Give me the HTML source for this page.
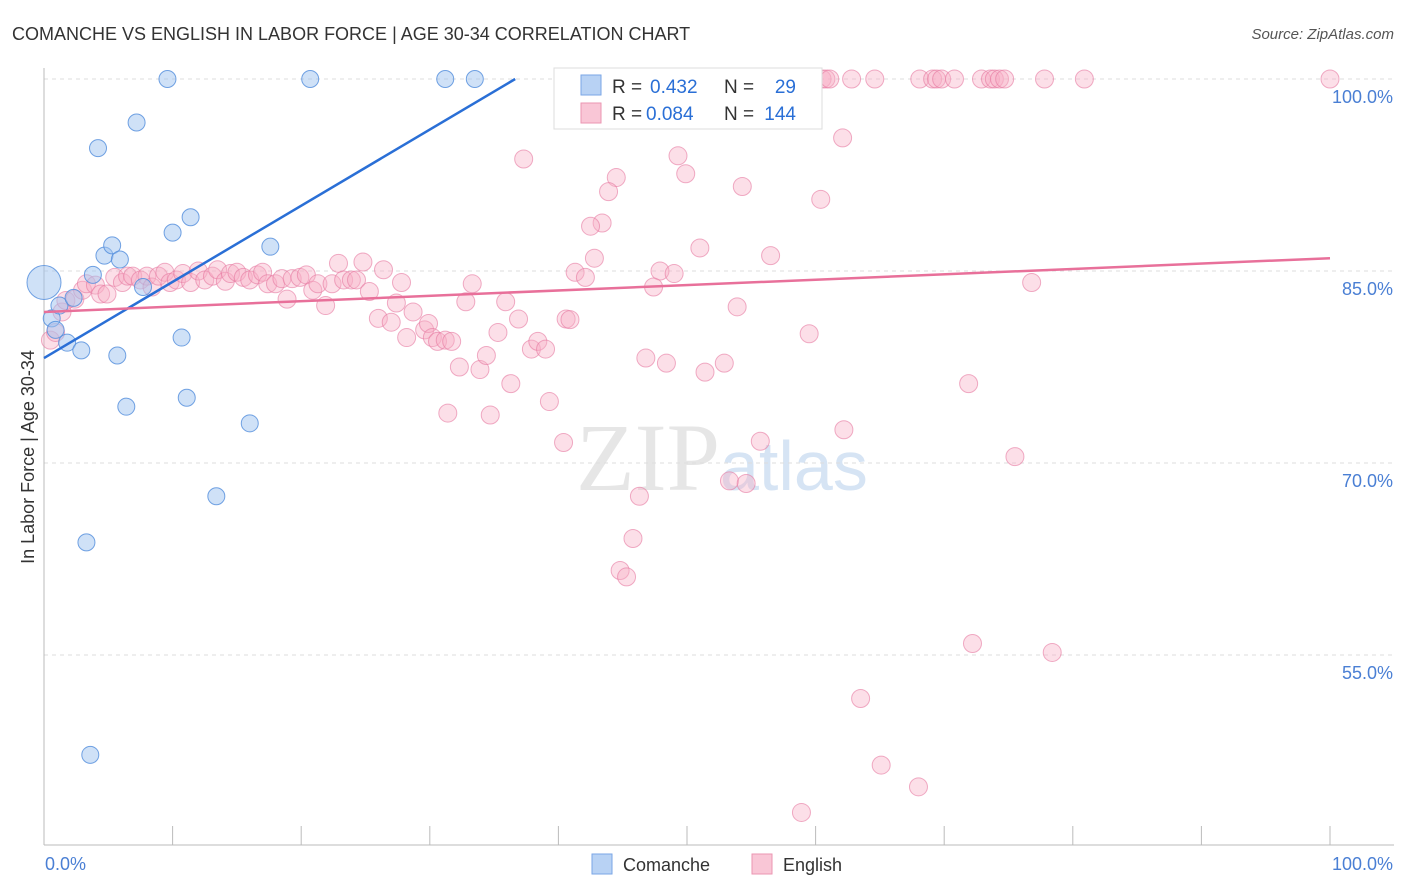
<!DOCTYPE html>
<html><head><meta charset="utf-8"><style>
body{margin:0;background:#fff;font-family:"Liberation Sans",sans-serif}
svg{display:block}
</style></head><body>
<svg id="chart" width="1406" height="892" viewBox="0 0 1406 892">
<text x="12" y="40" font-size="18" fill="#333">COMANCHE VS ENGLISH IN LABOR FORCE | AGE 30-34 CORRELATION CHART</text>
<text x="1394" y="39" font-size="15" fill="#555" font-style="italic" text-anchor="end">Source: ZipAtlas.com</text>
<text x="720" y="490" font-size="96" fill="#e6e6e6" text-anchor="end" font-family="Liberation Serif,serif">ZIP</text>
<text x="720" y="490" font-size="70" fill="#d6e4f4">atlas</text>
<g id="grid"></g>
<g id="axes"></g>
<g id="pinkPts"></g>
<g id="bluePts"></g>
<g id="lines"></g>
<text transform="translate(34,457) rotate(-90)" font-size="18" fill="#333" text-anchor="middle">In Labor Force | Age 30-34</text>
<text x="45" y="870" font-size="18" fill="#4a7fd4">0.0%</text>
<text x="1393" y="870" font-size="18" fill="#4a7fd4" text-anchor="end">100.0%</text>
<g>
<rect x="554" y="68" width="268" height="61" fill="#fff" stroke="#ddd"/>
<rect x="581" y="75" width="20" height="20" fill="#b8d2f4" stroke="#7aa6e6"/>
<text x="612" y="93" font-size="19" fill="#333">R = </text><text x="650" y="93" font-size="19" fill="#2a6fd6">0.432</text>
<text x="724" y="93" font-size="19" fill="#333">N = </text><text x="796" y="93" font-size="19" fill="#2a6fd6" text-anchor="end">29</text>
<rect x="581" y="103" width="20" height="20" fill="#f9c6d6" stroke="#eb96b2"/>
<text x="612" y="120" font-size="19" fill="#333">R = </text><text x="646" y="120" font-size="19" fill="#2a6fd6">0.084</text>
<text x="724" y="120" font-size="19" fill="#333">N = </text><text x="796" y="120" font-size="19" fill="#2a6fd6" text-anchor="end">144</text>
</g>
<g>
<rect x="592" y="854" width="20" height="20" fill="#b8d2f4" stroke="#7aa6e6"/>
<text x="623" y="871" font-size="18" fill="#333">Comanche</text></g>
<g>
<rect x="752" y="854" width="20" height="20" fill="#f9c6d6" stroke="#eb96b2"/>
<text x="783" y="871" font-size="18" fill="#333">English</text></g>
</svg>
<script>
const yTicks=[100,85,70,55];
const yTickLabels=["100.0%","85.0%","70.0%","55.0%"];
const xTicks=[0,10,20,30,40,50,60,70,80,90,100];
const blueX=[0,0.6,1.2,1.8,2.3,2.9,3.3,3.6,3.8,4.2,4.7,5.3,5.7,5.9,6.4,7.2,7.7,9.6,10.0,10.7,11.1,11.4,13.4,16.0,17.6,20.7,31.2,33.5,0.9];
const blueY=[84.1,81.3,82.3,79.4,82.9,78.8,63.8,47.2,84.7,94.6,86.2,87.0,78.4,85.9,74.4,96.6,83.75,100,88.0,79.8,75.1,89.2,67.4,73.1,86.9,100,100,100,80.4];
const pinkX=[52.0,52.3,54.5,55.4,55.5,56.6,56.9,58.8,60.5,60.8,61.1,62.8,64.6,68.1,69.1,69.4,69.8,70.8,72.9,73.6,73.9,74.3,74.7,77.8,80.9,100,
37.3,49.3,62.1,49.9,44.5,43.9,54.3,60.4,43.4,42.5,51.0,56.5,42.8,41.3,42.1,47.9,49.0,47.4,76.8,53.9,59.5,46.8,48.4,52.9,51.4,71.9,39.3,36.3,31.4,34.7,40.4,55.7,62.2,75.5,53.3,54.6,46.3,45.8,44.8,45.3,72.2,78.4,63.5,65.1,68.0,58.9,
0.5,0.9,1.4,1.7,2.4,3.0,3.3,4.0,4.4,4.9,5.5,6.1,6.5,6.9,7.5,8.0,8.4,8.9,9.4,9.8,10.3,10.8,11.4,12.0,12.5,13.1,13.5,14.1,14.5,15.0,15.5,16.0,16.6,17.0,17.4,18.0,18.5,18.9,19.3,19.9,20.4,20.9,21.3,21.9,22.4,22.9,23.3,23.9,24.3,24.8,25.3,26.0,26.4,27.0,27.4,27.8,28.2,28.7,29.6,29.9,30.2,30.6,31.2,31.7,32.3,32.8,33.3,33.9,34.4,35.3,35.9,36.9,37.9,38.4,39.0,40.6,40.9];
const pinkY=[100,100,100,100,100,100,100,100,100,100,100,100,100,100,100,100,100,100,100,100,100,100,100,100,100,100,
93.75,94.0,95.4,92.6,92.3,91.2,91.6,90.6,88.75,88.5,86.8,86.2,86.0,84.9,84.5,85.0,84.8,83.75,84.1,82.2,80.1,78.2,77.8,77.8,77.1,76.2,74.8,76.2,73.9,73.75,71.6,71.7,72.6,70.5,68.6,68.4,67.4,64.1,61.6,61.1,55.9,55.2,51.6,46.4,44.7,42.7,
79.6,80.2,81.8,82.7,82.8,83.5,84.0,83.9,83.2,83.2,84.5,84.1,84.6,84.6,84.3,84.6,83.75,84.6,84.9,84.1,84.3,84.8,84.1,85.0,84.3,84.6,85.1,84.2,84.8,84.9,84.5,84.3,84.7,84.9,84.0,84.0,84.4,82.8,84.4,84.5,84.7,83.5,84.0,82.3,84.0,85.6,84.3,84.3,84.3,85.7,83.4,81.3,85.1,81.0,82.5,84.1,79.8,81.8,80.4,80.9,79.8,79.5,79.6,79.5,77.5,82.6,84.0,77.3,78.4,80.2,82.6,81.25,78.9,79.5,78.9,81.25,81.2];
const blueTrend=[78.2,0.595];
const pinkTrend=[81.8,0.042];
const X=v=>44+v*12.86, Y=v=>79+(100-v)*12.8;
const NS="http://www.w3.org/2000/svg";
function mk(tag,attrs,parent){const e=document.createElementNS(NS,tag);for(const k in attrs)e.setAttribute(k,attrs[k]);document.getElementById(parent).appendChild(e);return e;}
yTicks.forEach((t,i)=>{
 const l=mk('line',{x1:44,x2:1394,y1:Y(t),y2:Y(t),stroke:'#ddd','stroke-dasharray':'4,4'},'grid');
 
 
 const tx=mk('text',{x:1393,y:Y(t)+24,'font-size':18,fill:'#4a7fd4','text-anchor':'end'},'grid');
 tx.textContent=yTickLabels[i];
 
 
});
const ya=mk('line',{x1:44,x2:44,y1:68,y2:845,stroke:'#bbb'},'axes');


const xa=mk('line',{x1:44,x2:1394,y1:845,y2:845,stroke:'#bbb'},'axes');


xTicks.forEach(t=>{
 const l=mk('line',{x1:X(t),x2:X(t),y1:826,y2:845,stroke:'#bbb'},'axes');
 
 
});
pinkX.forEach((x,i)=>{
 const c=mk('circle',{cx:X(x),cy:Y(pinkY[i]),r:9,fill:'rgba(248,176,198,0.4)',stroke:'rgba(230,120,160,0.6)'},'pinkPts');
 
 
});
blueX.forEach((x,i)=>{
 const c=mk('circle',{cx:X(x),cy:Y(blueY[i]),r:i===0?17:8.5,fill:'rgba(160,196,240,0.5)',stroke:'rgba(80,140,220,0.8)'},'bluePts');
 
 
});
const bx2=(100-blueTrend[0])/blueTrend[1];
const bl=mk('line',{x1:X(0),y1:Y(blueTrend[0]),x2:X(bx2),y2:Y(100),stroke:'#2a6fd6','stroke-width':2.5},'lines');


const pl=mk('line',{x1:X(0),y1:Y(pinkTrend[0]),x2:X(100),y2:Y(pinkTrend[0]+pinkTrend[1]*100),stroke:'#e8709a','stroke-width':2.5},'lines');


</script>
</body></html>
